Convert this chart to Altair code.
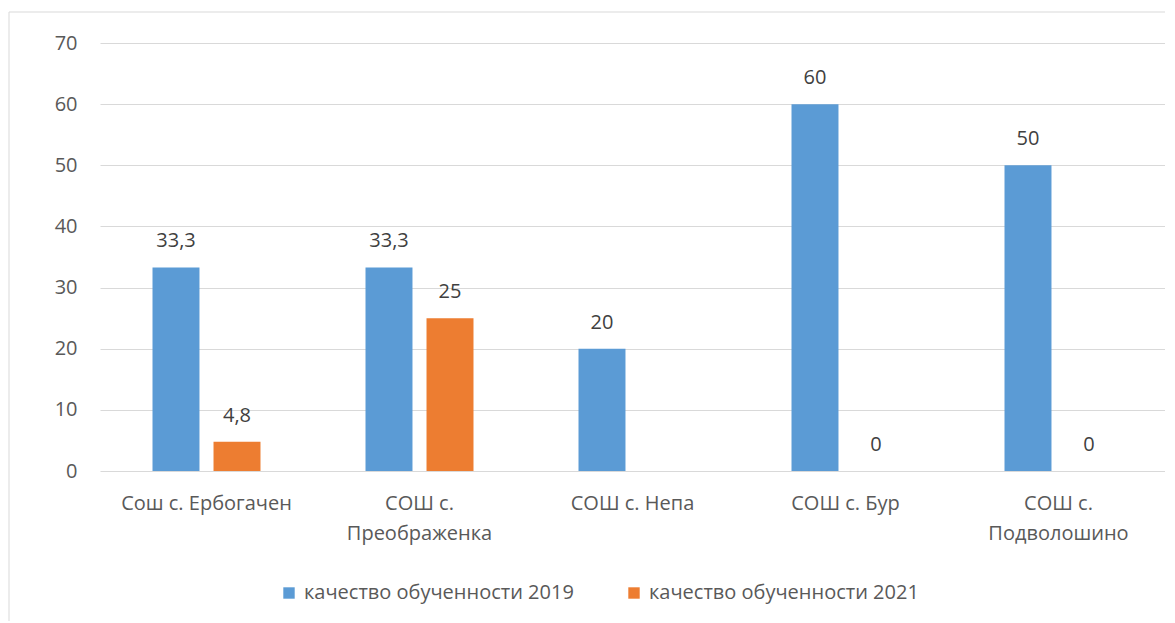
import altair as alt
import pandas as pd

categories = ["Сош с. Ербогачен", "СОШ с. Преображенка", "СОШ с. Непа", "СОШ с. Бур", "СОШ с. Подволошино"]
series = ["качество обученности 2019", "качество обученности 2021"]
values_2019 = [33.3, 33.3, 20, 60, 50]
values_2021 = [4.8, 25, None, 0, 0]
colors = ["#5B9BD5", "#ED7D31"]
y_ticks = [0, 10, 20, 30, 40, 50, 60, 70]

FONT = "Open Sans"
FS = 20

rows = []
for s, vals in zip(series, [values_2019, values_2021]):
    for c, v in zip(categories, vals):
        rows.append({
            "cat": c,
            "series": s,
            "value": v,
            "label": None if v is None else f"{v:g}".replace(".", ","),
        })
df = pd.DataFrame(rows)

x_enc = alt.X(
    "cat:N",
    sort=categories,
    scale=alt.Scale(paddingInner=0.493, paddingOuter=0.2465),
    axis=alt.Axis(
        title=None, labelAngle=0, labelFontSize=FS, labelColor="#595959", labelFont=FONT,
        ticks=False, domain=False, labelPadding=22, labelLineHeight=30, labelLimit=400,
        labelExpr="length(datum.label) > 17 ? [substring(datum.label, 0, 6), substring(datum.label, 7)] : datum.label",
    ),
)
xoff = alt.XOffset("series:N", sort=series, scale=alt.Scale(paddingInner=0.23, paddingOuter=0))
y_enc = alt.Y(
    "value:Q",
    scale=alt.Scale(domain=[0, 70]),
    axis=alt.Axis(
        title=None, values=y_ticks, grid=True, gridColor="#D9D9D9", gridWidth=1, domain=False,
        ticks=False, labelPadding=23, labelFontSize=FS, labelColor="#595959", labelFont=FONT,
    ),
)

base = alt.Chart(df)

bars = base.mark_bar().encode(
    x=x_enc,
    xOffset=xoff,
    y=y_enc,
    color=alt.Color(
        "series:N",
        scale=alt.Scale(domain=series, range=colors),
        legend=alt.Legend(
            title=None, orient="none", legendX=179, legendY=540, direction="horizontal",
            symbolType="square", symbolSize=130, symbolStrokeWidth=0, labelFontSize=FS,
            labelColor="#595959", labelFont=FONT, columnPadding=50, labelOffset=5, padding=0,
            labelLimit=500,
        ),
    ),
)

texts = base.mark_text(
    dy=-26, baseline="middle", fontSize=FS, font=FONT, color="#404040"
).encode(
    x=x_enc,
    xOffset=xoff,
    y=alt.Y("value:Q"),
    text=alt.Text("label:N"),
)

frame = alt.Chart(pd.DataFrame({"f": [0]})).mark_rect(
    fill="transparent", stroke="#D9D9D9", strokeWidth=1
).encode(
    x=alt.value(-91), x2=alt.value(1075), y=alt.value(-31), y2=alt.value(700)
)

chart = alt.layer(frame, bars, texts).properties(
    width=1065, height=428,
    autosize=alt.AutoSizeParams(type="none"),
    padding={"left": 92, "top": 35, "right": 0, "bottom": 150},
).configure_view(stroke=None)

chart.save("out.html", embed_options={"renderer": "svg", "actions": False})
